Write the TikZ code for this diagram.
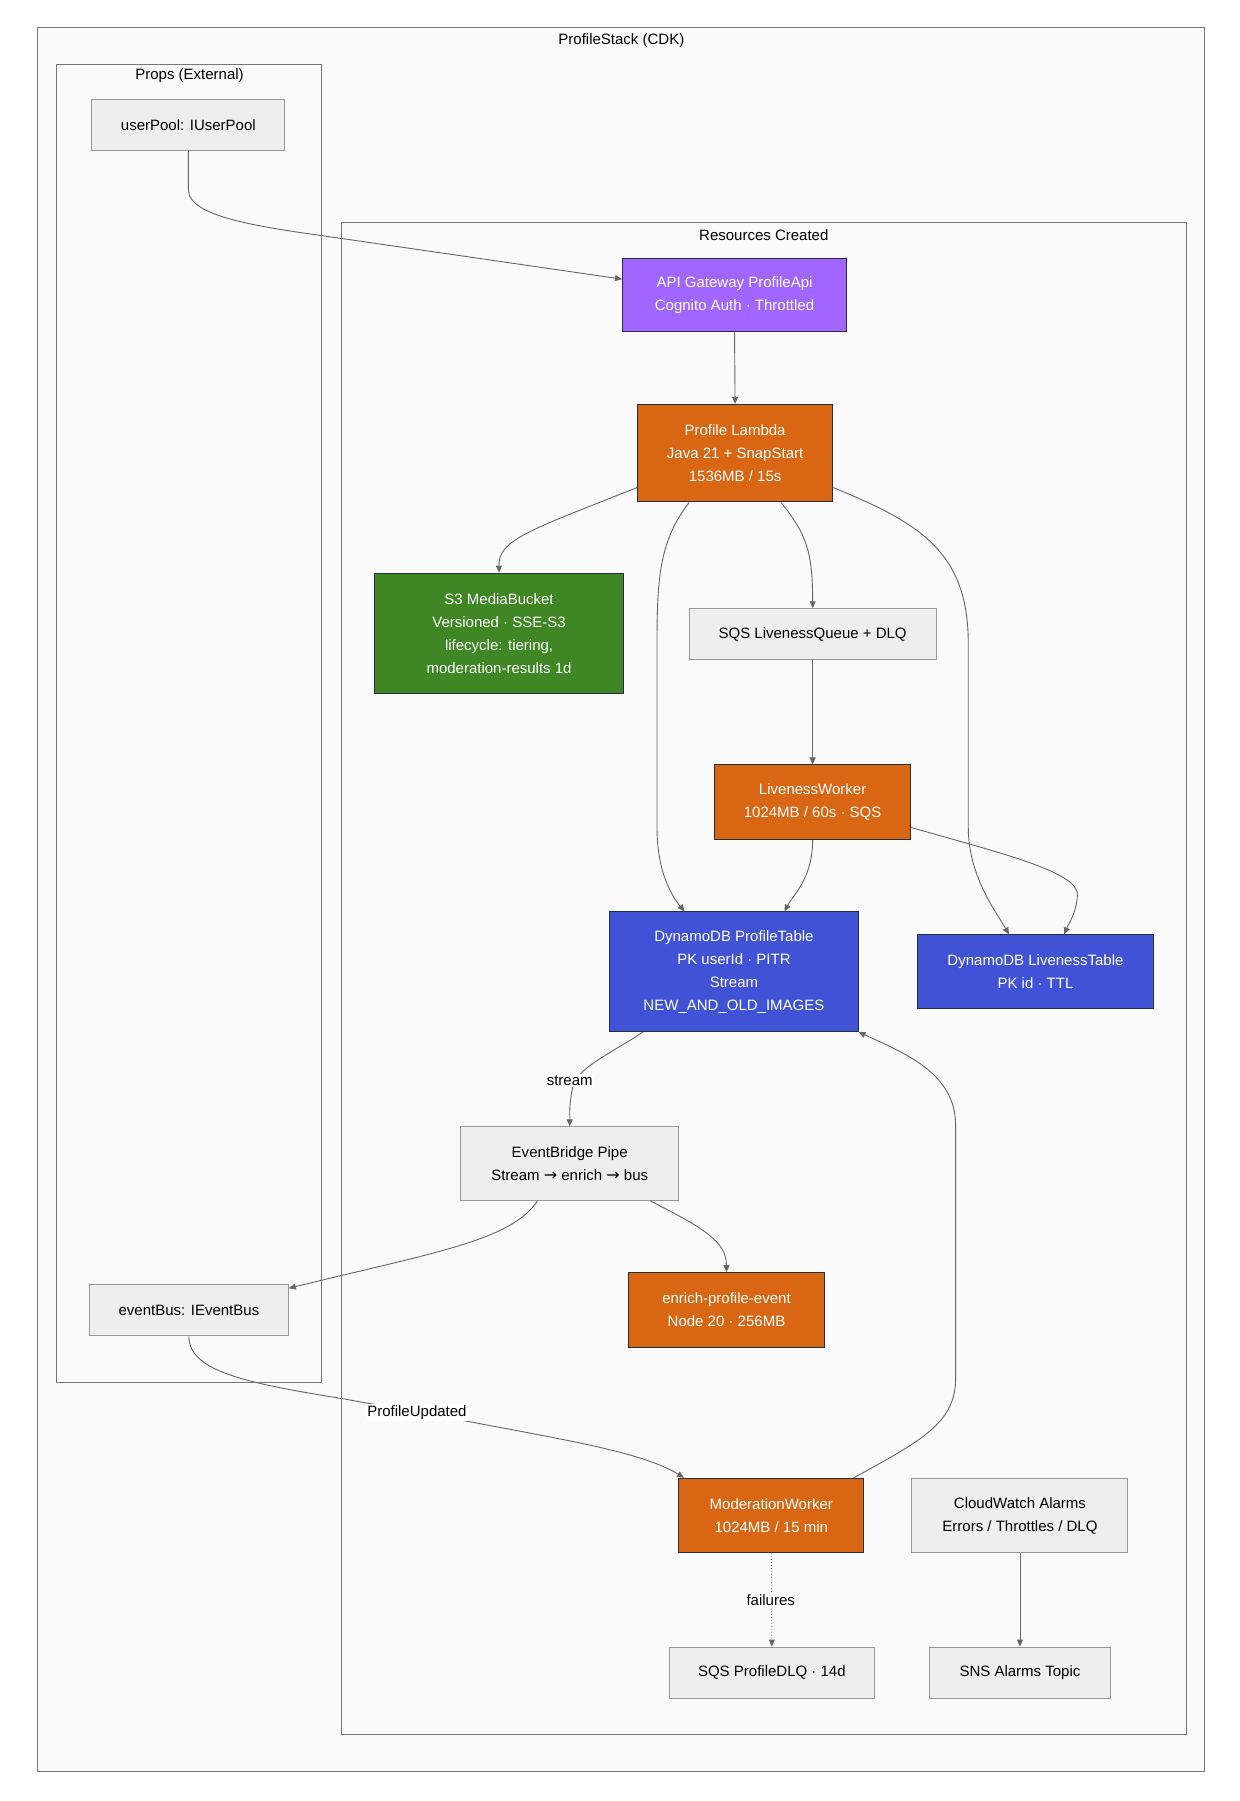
\documentclass[tikz,border=0pt]{standalone}
\usepackage{fontspec}
\setmainfont{Liberation Sans}
\newfontfamily\arrowfont{DejaVu Sans}
\usetikzlibrary{arrows.meta,calc}
\definecolor{gfill}{HTML}{EEEEEE}
\definecolor{gdraw}{HTML}{999999}
\definecolor{aorange}{HTML}{D86613}
\definecolor{agreen}{HTML}{3F8624}
\definecolor{apurple}{HTML}{A166FF}
\definecolor{ablue}{HTML}{4053D6}
\definecolor{dborder}{HTML}{232F3E}
\definecolor{cldraw}{HTML}{777777}
\definecolor{clfill}{HTML}{FAFAFA}
\definecolor{edgec}{HTML}{666666}
\newcommand\mybox[7]{\node[#6, minimum width={(#4-#2)*1.1483pt}, minimum height={(#5-#3)*1.1483pt}] (#1) at ({(#2+#4)/2},{(#3+#5)/2}) {#7};}
\newcommand\rarr{{\arrowfont\fontsize{16}{23}\selectfont →}}
\tikzset{
 box/.style={draw, line width=1pt, inner sep=0pt, align=center},
 gnode/.style={box, fill=gfill, draw=gdraw, text=black},
 onode/.style={box, fill=aorange, draw=dborder, text=white},
 grnode/.style={box, fill=agreen, draw=dborder, text=white},
 pnode/.style={box, fill=apurple, draw=dborder, text=white},
 bnode/.style={box, fill=ablue, draw=dborder, text=white},
 cluster/.style={draw=cldraw, fill=clfill, line width=1pt, inner sep=0pt},
 ctitle/.style={text=black, inner sep=0pt},
 link/.style={draw=edgec, line width=0.9pt, -{Triangle[length=7pt,width=6pt]}},
 dlink/.style={link, dotted},
 elabel/.style={fill=white, inner sep=1.5pt, text=black},
}
\begin{document}
\begin{tikzpicture}[x=1.1483pt,y=-1.1483pt, font=\fontsize{15}{23}\selectfont]
\useasboundingbox[fill=white] (0,0) rectangle (1079,1568);
% clusters
\mybox{stack}{33}{24}{1049}{1542}{cluster}{}
\node[ctitle] (stacktitle) at (541,35) {ProfileStack (CDK)};
\mybox{props}{49}{56}{280}{1204}{cluster}{}
\node[ctitle] (propstitle) at (165,66) {Props (External)};
\mybox{res}{297}{194}{1033}{1510}{cluster}{}
\node[ctitle] (restitle) at (665,205) {Resources Created};
% nodes
\mybox{userpool}{80}{87}{248}{131}{gnode}{userPool: IUserPool}
\mybox{api}{542}{225}{737}{289}{pnode}{API Gateway ProfileApi\\Cognito Auth · Throttled}
\mybox{lambda}{555}{352}{725}{437}{onode}{Profile Lambda\\Java 21 + SnapStart\\1536MB / 15s}
\mybox{s3}{326}{499}{543}{604}{grnode}{S3 MediaBucket\\Versioned · SSE-S3\\lifecycle: tiering,\\moderation-results 1d}
\mybox{sqs}{600}{530}{815}{574}{gnode}{SQS LivenessQueue + DLQ}
\mybox{lw}{622}{666}{793}{731}{onode}{LivenessWorker\\1024MB / 60s · SQS}
\mybox{pt}{531}{794}{747}{898}{bnode}{DynamoDB ProfileTable\\PK userId · PITR\\Stream\\NEW\_AND\_OLD\_IMAGES}
\mybox{lt}{799}{814}{1004}{878}{bnode}{DynamoDB LivenessTable\\PK id · TTL}
\mybox{eb}{401}{981}{591}{1045}{gnode}{EventBridge Pipe\\Stream \rarr{} enrich \rarr{} bus}
\mybox{enrich}{547}{1108}{718}{1173}{onode}{enrich-profile-event\\Node 20 · 256MB}
\mybox{bus}{78}{1118}{251}{1163}{gnode}{eventBus: IEventBus}
\mybox{mw}{591}{1287}{752}{1352}{onode}{ModerationWorker\\1024MB / 15 min}
\mybox{cw}{794}{1287}{982}{1352}{gnode}{CloudWatch Alarms\\Errors / Throttles / DLQ}
\mybox{dlq}{583}{1434}{761}{1479}{gnode}{SQS ProfileDLQ · 14d}
\mybox{sns}{809}{1434}{967}{1479}{gnode}{SNS Alarms Topic}
% edges
\draw[link] (userpool.south) -- (164,165) .. controls (164,190) and (230,198) .. (300,208) -- ($(api.west)+(0,-14)$);
\draw[link] (api.south) -- (lambda.north);
\draw[link] ($(lambda.west)+(0,30)$) .. controls (460,462) and (434,470) .. (s3.north);
\draw[link] ($(lambda.south)+(40,0)$) .. controls (702,465) and (707.5,480) .. (sqs.north);
\draw[link] ($(lambda.south)+(-40,0)$) .. controls (575,470) and (572,500) .. (572,560) -- (572,720) .. controls (572,760) and (585,780) .. ($(pt.north)+(-43,0)$);
\draw[link] ($(lambda.east)+(0,30)$) .. controls (800,455) and (843,480) .. (843,560) -- (843,720) .. controls (843,762) and (866,792) .. ($(lt.north)+(-23,0)$);
\draw[link] (sqs.south) -- (lw.north);
\draw[link] (lw.south) .. controls (707.5,765) and (690,780) .. ($(pt.north)+(44,0)$);
\draw[link] ($(lw.east)+(0,22)$) .. controls (880,745) and (940,760) .. (938,780) .. controls (937,795) and (930,805) .. ($(lt.north)+(25,0)$);
\draw[link] ($(pt.south)+(-79,0)$) .. controls (530,918) and (503,930) .. (499,945) .. controls (496,958) and (496,965) .. (eb.north);
\draw[link] ($(eb.south)+(-28,0)$) .. controls (445,1080) and (380,1090) .. ($(bus.north east)+(0,4)$);
\draw[link] ($(eb.south)+(70,0)$) .. controls (610,1068) and (632.5,1080) .. (enrich.north);
\draw[link] (bus.south) .. controls (164,1195) and (220,1205) .. (300,1218) -- (410,1238) .. controls (500,1255) and (560,1265) .. ($(mw.north west)+(5,0)$);
\draw[link] ($(mw.north east)+(-9,0)$) .. controls (800,1255) and (832,1240) .. (832,1200) -- (832,980) .. controls (832,935) and (790,918) .. (pt.south east);
\draw[dlink] (mw.south) -- (dlq.north);
\draw[link] (cw.south) -- (sns.north);
% edge labels
\node[elabel] (lstream) at (496,941) {stream};
\node[elabel] (lupd) at (363,1230) {ProfileUpdated};
\node[elabel] (lfail) at (671,1393) {failures};
\end{tikzpicture}
\end{document}
